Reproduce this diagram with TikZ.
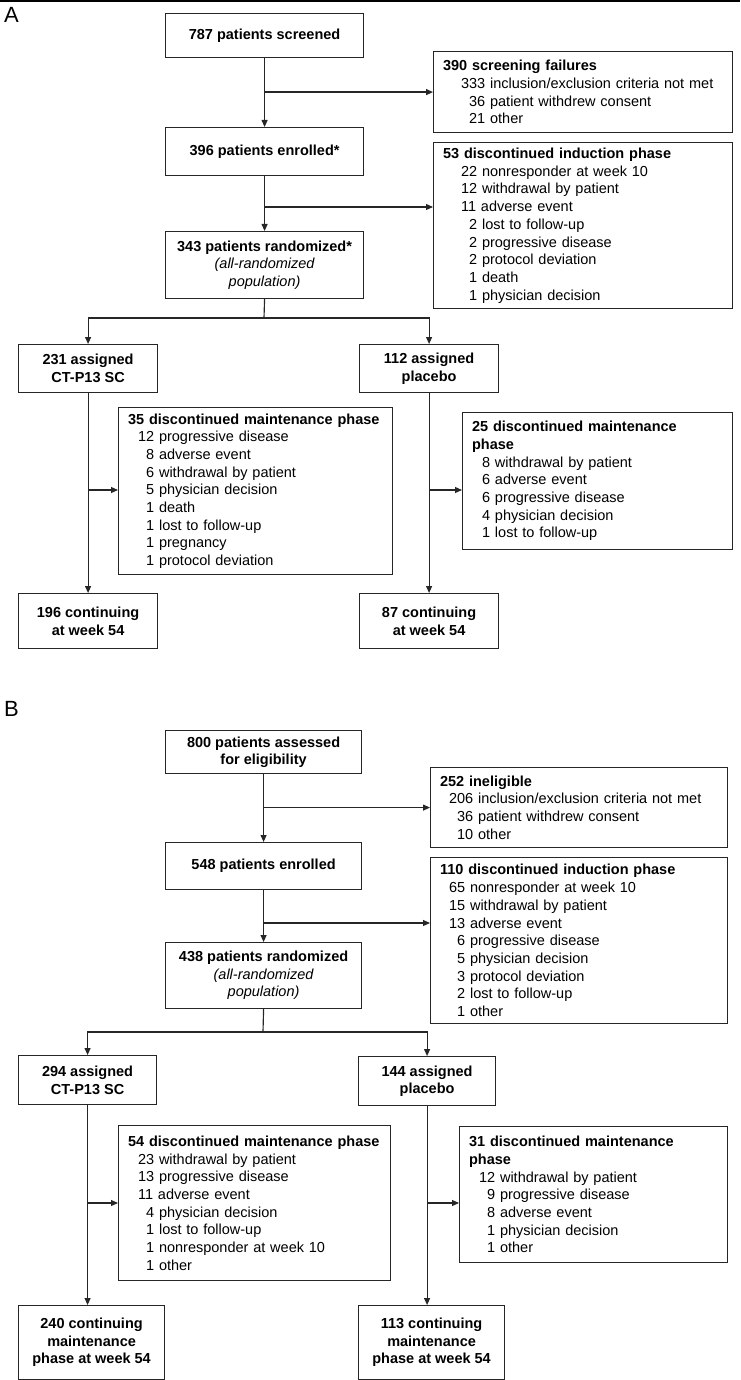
\documentclass[tikz,border=0pt]{standalone}
\usepackage{fontspec}
\setmainfont{Liberation Sans}
\usetikzlibrary{arrows.meta}
\newcommand{\myind}[1]{\hspace*{#1}}
\newcommand{\pz}{\phantom{0}}
\tikzset{
 bx/.style={draw=black!85, line width=1.15pt, inner sep=0pt, anchor=north west},
 cbox/.style={bx, align=center, font=\fontsize{14.5}{17.5}\selectfont\bfseries},
 rbox/.style={bx, align=left, inner xsep=9.5pt, inner ysep=0pt, font=\fontsize{14.5}{17.7}\selectfont},
 ln/.style={draw=black!85, line width=1.15pt, line join=miter},
 arr/.style={ln, -{Triangle[length=7pt,width=6pt]}},
 lab/.style={font=\fontsize{22}{22}\selectfont, anchor=base west, inner sep=0pt},
}
\begin{document}
\begin{tikzpicture}[x=1pt,y=-1pt]
\useasboundingbox (0,0) rectangle (740,1380);
\fill[black] (0,0) rectangle (740,2.5);
% ---------------- Panel A ----------------
\node[lab] (labA) at (4,23) {A};
\node[cbox, minimum width=198pt, minimum height=44pt] (a1) at (165,13) {787 patients screened};
\node[cbox, minimum width=198pt, minimum height=48pt] (a2) at (165,127) {396 patients enrolled*};
\node[cbox, minimum width=198pt, minimum height=67pt] (a3) at (165,231) {343 patients randomized*\\{\normalfont\itshape (all-randomized}\\{\normalfont\itshape population)}};
\node[rbox, text width=280pt, minimum height=81pt] (asf) at (433,51) {{\bfseries 390 screening failures}\\
\myind{18pt}333 inclusion/exclusion criteria not met\\
\myind{18pt}\pz 36 patient withdrew consent\\
\myind{18pt}\pz 21 other};
\node[rbox, text width=280pt, minimum height=166pt] (a53) at (433,142) {{\bfseries 53 discontinued induction phase}\\
\myind{18pt}22 nonresponder at week 10\\
\myind{18pt}12 withdrawal by patient\\
\myind{18pt}11 adverse event\\
\myind{18pt}\pz 2 lost to follow-up\\
\myind{18pt}\pz 2 progressive disease\\
\myind{18pt}\pz 2 protocol deviation\\
\myind{18pt}\pz 1 death\\
\myind{18pt}\pz 1 physician decision};
\node[cbox, minimum width=139pt, minimum height=48pt] (a231) at (18,344) {231 assigned\\CT-P13 SC};
\node[cbox, minimum width=139pt, minimum height=48pt] (a112) at (359,344) {112 assigned\\placebo};
\node[rbox, text width=255pt, minimum height=167pt] (a35) at (118,407) {{\bfseries 35 discontinued maintenance phase}\\
\myind{10pt}12 progressive disease\\
\myind{10pt}\pz 8 adverse event\\
\myind{10pt}\pz 6 withdrawal by patient\\
\myind{10pt}\pz 5 physician decision\\
\myind{10pt}\pz 1 death\\
\myind{10pt}\pz 1 lost to follow-up\\
\myind{10pt}\pz 1 pregnancy\\
\myind{10pt}\pz 1 protocol deviation};
\node[rbox, text width=251pt, minimum height=137pt] (a25) at (462,412) {{\bfseries 25 discontinued maintenance}\\
{\bfseries phase}\\
\myind{10pt}8 withdrawal by patient\\
\myind{10pt}6 adverse event\\
\myind{10pt}6 progressive disease\\
\myind{10pt}4 physician decision\\
\myind{10pt}1 lost to follow-up};
\node[cbox, minimum width=139pt, minimum height=55pt] (a196) at (18,593) {196 continuing\\at week 54};
\node[cbox, minimum width=139pt, minimum height=55pt] (a87) at (359,593) {87 continuing\\at week 54};
% connectors A
\coordinate (jA2) at (264,207);
\coordinate (sA) at (264,318);
\coordinate (yA3) at (0,490);
\draw[arr] (a1.south) -- (a2.north);
\draw[arr] (a1.south |- asf.west) -- (asf.west);
\draw[arr] (a2.south) -- (a3.north);
\draw[arr] (jA2) -- (jA2 -| a53.west);
\draw[ln] (a3.south) -- (sA);
\draw[arr] (sA) -| (a231.north);
\draw[arr] (sA) -| (a112.north);
\draw[arr] (a231.south) -- (a196.north);
\draw[arr] (a231.south |- yA3) -- (yA3 -| a35.west);
\draw[arr] (a112.south) -- (a87.north);
\draw[arr] (a112.south |- yA3) -- (yA3 -| a25.west);
% ---------------- Panel B ----------------
\node[lab] (labB) at (4,716) {B};
\node[cbox, minimum width=196pt, minimum height=43pt] (b1) at (165,730) {800 patients assessed\\for eligibility};
\node[cbox, minimum width=196pt, minimum height=47pt] (b2) at (165,842) {548 patients enrolled};
\node[cbox, minimum width=196pt, minimum height=66pt] (b3) at (165,942) {438 patients randomized\\{\normalfont\itshape (all-randomized}\\{\normalfont\itshape population)}};
\node[rbox, text width=278pt, minimum height=80pt] (bin) at (430,767) {{\bfseries 252 ineligible}\\
\myind{9pt}206 inclusion/exclusion criteria not met\\
\myind{9pt}\pz 36 patient withdrew consent\\
\myind{9pt}\pz 10 other};
\node[rbox, text width=278pt, minimum height=166pt] (b110) at (430,857) {{\bfseries 110 discontinued induction phase}\\
\myind{9pt}65 nonresponder at week 10\\
\myind{9pt}15 withdrawal by patient\\
\myind{9pt}13 adverse event\\
\myind{9pt}\pz 6 progressive disease\\
\myind{9pt}\pz 5 physician decision\\
\myind{9pt}\pz 3 protocol deviation\\
\myind{9pt}\pz 2 lost to follow-up\\
\myind{9pt}\pz 1 other};
\node[cbox, minimum width=138pt, minimum height=49pt] (b294) at (18,1055) {294 assigned\\CT-P13 SC};
\node[cbox, minimum width=137pt, minimum height=49pt] (b144) at (358,1056) {144 assigned\\placebo};
\node[rbox, text width=253pt, minimum height=155pt] (b54) at (118,1125) {{\bfseries 54 discontinued maintenance phase}\\
\myind{10pt}23 withdrawal by patient\\
\myind{10pt}13 progressive disease\\
\myind{10pt}11 adverse event\\
\myind{10pt}\pz 4 physician decision\\
\myind{10pt}\pz 1 lost to follow-up\\
\myind{10pt}\pz 1 nonresponder at week 10\\
\myind{10pt}\pz 1 other};
\node[rbox, text width=249pt, minimum height=136pt] (b31) at (459,1126) {{\bfseries 31 discontinued maintenance}\\
{\bfseries phase}\\
\myind{10pt}12 withdrawal by patient\\
\myind{10pt}\pz 9 progressive disease\\
\myind{10pt}\pz 8 adverse event\\
\myind{10pt}\pz 1 physician decision\\
\myind{10pt}\pz 1 other};
\node[cbox, minimum width=146pt, minimum height=74pt] (b240) at (18,1305) {240 continuing\\maintenance\\phase at week 54};
\node[cbox, minimum width=146pt, minimum height=74pt] (b113) at (358,1305) {113 continuing\\maintenance\\phase at week 54};
% connectors B
\coordinate (jB2) at (263,923);
\coordinate (sB) at (263,1032);
\coordinate (yB3) at (0,1203);
\draw[arr] (b1.south) -- (b2.north);
\draw[arr] (b1.south |- bin.west) -- (bin.west);
\draw[arr] (b2.south) -- (b3.north);
\draw[arr] (jB2) -- (jB2 -| b110.west);
\draw[ln] (b3.south) -- (sB);
\draw[arr] (sB) -| (b294.north);
\draw[arr] (sB) -| (b144.north);
\draw[arr] (b294.south) -- (b294.south |- b240.north);
\draw[arr] (b294.south |- yB3) -- (yB3 -| b54.west);
\draw[arr] (b144.south) -- (b144.south |- b113.north);
\draw[arr] (b144.south |- yB3) -- (yB3 -| b31.west);
\end{tikzpicture}
\end{document}
